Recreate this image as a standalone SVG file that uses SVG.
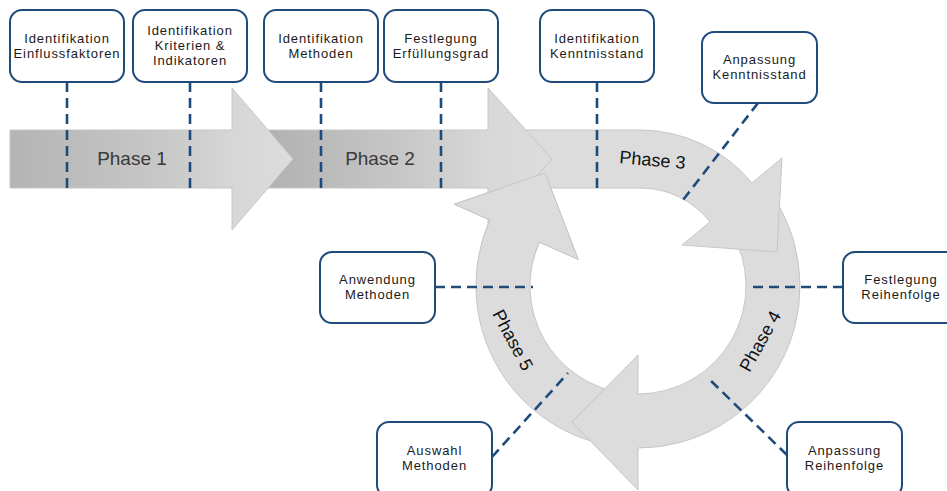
<svg xmlns="http://www.w3.org/2000/svg" width="947" height="491" viewBox="0 0 947 491">
<style>
.arr{stroke:#c6c6c6;stroke-width:1;stroke-linejoin:miter}
.ring{fill:#dcdcdc}
.box{fill:#ffffff;stroke:#1f4b7b;stroke-width:2}
.lbl{font-family:"Liberation Sans",Arial,sans-serif;font-size:13px;letter-spacing:0.9px;fill:#1a1a1a;text-anchor:middle}
.ph{font-family:"Liberation Sans",Arial,sans-serif;font-size:19px;fill:#3a3a3a;text-anchor:middle}
.ph2{font-family:"Liberation Sans",Arial,sans-serif;font-size:18px;fill:#111111;text-anchor:middle}
.dash{fill:none;stroke:#1f4b7b;stroke-width:2.6;stroke-dasharray:10 6}
</style>
<defs>
<linearGradient id="g1" gradientUnits="userSpaceOnUse" x1="10" y1="0" x2="293" y2="0">
<stop offset="0" stop-color="#b4b4b4"/>
<stop offset="0.5" stop-color="#c6c6c6"/>
<stop offset="0.78" stop-color="#d6d6d6"/>
<stop offset="1" stop-color="#dddddd"/>
</linearGradient>
<linearGradient id="g2" gradientUnits="userSpaceOnUse" x1="262" y1="0" x2="552" y2="0">
<stop offset="0" stop-color="#b0b0b0"/>
<stop offset="0.12" stop-color="#b6b6b6"/>
<stop offset="0.5" stop-color="#c8c8c8"/>
<stop offset="0.78" stop-color="#d8d8d8"/>
<stop offset="1" stop-color="#dddddd"/>
</linearGradient>
</defs>

<g id="arrows">
<g id="phase5">
<path class="arr ring" d="M 618.3 446.8 A 162 162 0 0 1 490 220.1 L 454.4 204.2 L 545 173 L 578.2 259.4 L 539.3 242.1 A 108 108 0 0 0 624.8 393.2 Z"/>
</g>
<g id="phase4">
<path class="arr ring" d="M 776.9 202.6 A 162 162 0 0 1 638 448 L 638 490 L 572 422 L 638 355 L 638 394 A 108 108 0 0 0 730.6 230.4 Z"/>
</g>
<g id="phase3">
<path class="arr ring" d="M 520 130 L 640 130 A 146 146 0 0 1 752 183 L 782 158 L 777 252 L 682 245 L 710 222 A 88 88 0 0 0 640 188 L 520 188 Z"/>
</g>
<g id="phase2">
<path class="arr" fill="url(#g2)" d="M 262 130 L 488 130 L 488 88 L 552 159 L 488 230 L 488 188 L 262 188 Z"/>
</g>
<g id="phase1">
<path class="arr" fill="url(#g1)" d="M 10 130 L 232 130 L 232 88 L 293 159 L 232 230 L 232 188 L 10 188 Z"/>
</g>
<g id="phase5-head">
<path class="ring" d="M 481.5 244.1 A 162 162 0 0 1 490 220.1 L 454.4 204.2 L 545 173 L 578.2 259.4 L 539.3 242.1 A 108 108 0 0 0 533.7 258 Z"/>
<path class="arr" fill="none" d="M 481.5 244.1 A 162 162 0 0 1 490 220.1 L 454.4 204.2 L 545 173 L 578.2 259.4 L 539.3 242.1 A 108 108 0 0 0 533.7 258"/>
</g>
<text class="ph" x="132" y="165">Phase 1</text>
<text class="ph" x="380" y="165">Phase 2</text>
<text class="ph2" transform="translate(652,166) rotate(5)">Phase 3</text>
<text class="ph2" transform="translate(760,341) rotate(-61)" dy="0.35em">Phase 4</text>
<text class="ph2" transform="translate(513,340) rotate(62)" dy="0.35em">Phase 5</text>
</g>

<g id="connectors">
<line class="dash" x1="67" y1="82" x2="67" y2="188"/>
<line class="dash" x1="190" y1="82" x2="190" y2="188"/>
<line class="dash" x1="321" y1="82" x2="321" y2="188"/>
<line class="dash" x1="441" y1="82" x2="441" y2="188"/>
<line class="dash" x1="597" y1="82" x2="597" y2="188"/>
<line class="dash" x1="758" y1="103" x2="683" y2="200"/>
<line class="dash" x1="843" y1="287" x2="747" y2="287"/>
<line class="dash" x1="435" y1="287" x2="533" y2="287"/>
<line class="dash" x1="492" y1="457" x2="568" y2="373"/>
<line class="dash" x1="787" y1="455" x2="707" y2="377"/>
</g>

<g id="n1"><rect class="box" x="10" y="10" width="114" height="72" rx="12"/>
<text class="lbl" x="67" y="42.5">Identifikation</text><text class="lbl" x="67" y="57.5">Einflussfaktoren</text></g>
<g id="n2"><rect class="box" x="133" y="10" width="114" height="72" rx="12"/>
<text class="lbl" x="190" y="35">Identifikation</text><text class="lbl" x="190" y="50">Kriterien &amp;</text><text class="lbl" x="190" y="65">Indikatoren</text></g>
<g id="n3"><rect class="box" x="264" y="10" width="114" height="72" rx="12"/>
<text class="lbl" x="321" y="42.5">Identifikation</text><text class="lbl" x="321" y="57.5">Methoden</text></g>
<g id="n4"><rect class="box" x="384" y="10" width="114" height="72" rx="12"/>
<text class="lbl" x="441" y="42.5">Festlegung</text><text class="lbl" x="441" y="57.5">Erfüllungsgrad</text></g>
<g id="n5"><rect class="box" x="540" y="10" width="114" height="72" rx="12"/>
<text class="lbl" x="597" y="42.5">Identifikation</text><text class="lbl" x="597" y="57.5">Kenntnisstand</text></g>
<g id="n6"><rect class="box" x="702" y="32" width="115" height="71" rx="12"/>
<text class="lbl" x="759.5" y="63.5">Anpassung</text><text class="lbl" x="759.5" y="78.5">Kenntnisstand</text></g>
<g id="n7"><rect class="box" x="843" y="252" width="115" height="71" rx="12"/>
<text class="lbl" x="901" y="283.5">Festlegung</text><text class="lbl" x="901" y="298.5">Reihenfolge</text></g>
<g id="n8"><rect class="box" x="320" y="252" width="115" height="71" rx="12"/>
<text class="lbl" x="377.5" y="283.5">Anwendung</text><text class="lbl" x="377.5" y="298.5">Methoden</text></g>
<g id="n9"><rect class="box" x="377" y="422" width="115" height="75" rx="12"/>
<text class="lbl" x="434.5" y="454.5">Auswahl</text><text class="lbl" x="434.5" y="469.5">Methoden</text></g>
<g id="n10"><rect class="box" x="787" y="422" width="115" height="75" rx="12"/>
<text class="lbl" x="844.5" y="454.5">Anpassung</text><text class="lbl" x="844.5" y="469.5">Reihenfolge</text></g>
</svg>
